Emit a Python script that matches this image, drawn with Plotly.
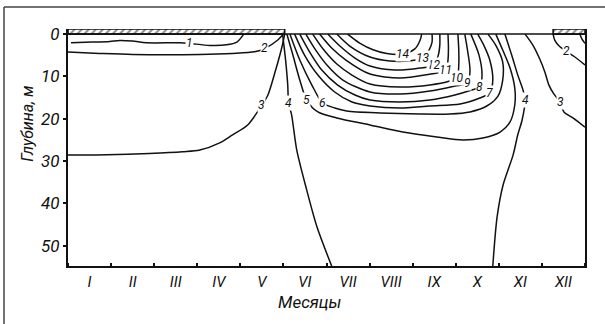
import plotly.graph_objects as go

# Month names (Roman numerals) and depth ticks, m
months = ["I", "II", "III", "IV", "V", "VI", "VII", "VIII", "IX", "X", "XI", "XII"]
depth_ticks = [0, 10, 20, 30, 40, 50]

# Ice cover periods, in months from the start of January
ice_left = (0.0, 5.03)
ice_right = (11.26, 12.0)

# Isotherms: time (months from 1 Jan) and depth (m) along each line
iso1_m = [0.07, 0.57, 0.97, 1.20, 1.50, 1.82, 2.59, 2.82, 3.29, 3.68, 3.92, 4.03, 4.08]
iso1_d = [2.05, 1.90, 1.73, 1.50, 1.65, 2.05, 2.05, 2.20, 2.67, 2.53, 1.90, 0.70, 0.0]

iso2a_m = [0.0, 0.73, 1.50, 3.06, 3.82, 4.33, 4.57, 4.87, 5.00]
iso2a_d = [4.25, 4.56, 4.80, 4.80, 4.56, 4.18, 3.40, 1.40, 0.0]

iso2b_m = [11.26, 11.30, 11.40, 11.56, 11.75, 12.0]
iso2b_d = [0.0, 1.5, 2.8, 4.0, 5.3, 7.3]

iso2c_m = [11.88, 11.93, 12.0]
iso2c_d = [0.0, 1.2, 2.2]

iso3a_m = [0.0, 0.90, 1.89, 2.66, 3.06, 3.52, 3.82, 4.17, 4.50, 4.64, 4.82, 4.96, 5.03]
iso3a_d = [28.6, 28.5, 28.2, 27.8, 27.4, 25.7, 23.8, 21.5, 16.8, 14.4, 8.5, 3.3, 0.0]

iso3b_m = [10.61, 10.79, 10.95, 11.07, 11.16, 11.28, 11.42, 11.51, 11.72, 12.0]
iso3b_d = [0.0, 2.6, 5.9, 9.0, 12.0, 14.2, 16.0, 18.4, 19.8, 22.0]

iso4a_m = [4.98, 5.05, 5.10, 5.12, 5.19, 5.31, 5.54, 5.78, 6.12]
iso4a_d = [0.0, 6.1, 12.0, 16.3, 19.1, 27.4, 36.8, 45.6, 54.8]

iso4b_m = [10.14, 10.30, 10.44, 10.56, 10.61, 10.54, 10.44, 10.33, 10.10, 9.96, 9.86]
iso4b_d = [0.0, 5.0, 9.7, 13.2, 15.6, 20.3, 23.8, 28.6, 35.6, 43.2, 54.8]

iso5_m = [5.08, 5.22, 5.38, 5.54, 5.80, 6.24, 7.01, 7.77, 8.56, 9.17, 9.63, 10.03, 10.26, 10.37, 10.37, 10.26, 10.09, 9.93]
iso5_d = [0.0, 4.96, 10.86, 15.58, 18.41, 19.83, 21.48, 23.14, 24.32, 25.02, 24.55, 23.14, 20.77, 16.76, 12.75, 8.03, 3.78, 0.0]

iso6_m = [5.15, 5.38, 5.66, 5.91, 6.19, 6.47, 7.24, 8.17, 8.86, 9.33, 9.72, 9.98, 10.09, 10.09, 9.94, 9.75]
iso6_d = [0.0, 6.14, 12.04, 16.29, 17.47, 18.18, 18.65, 18.89, 18.89, 18.41, 17.00, 14.64, 10.86, 6.61, 2.83, 0.0]

iso7_m = [5.26, 5.49, 5.80, 6.19, 6.59, 7.01, 7.70, 8.40, 9.10, 9.56, 9.79, 9.86, 9.79, 9.65, 9.51]
iso7_d = [0.0, 4.96, 9.68, 13.69, 16.05, 16.99, 17.47, 16.99, 16.53, 15.11, 13.93, 10.86, 6.14, 2.60, 0.0]

iso8_m = [5.38, 5.61, 5.89, 6.26, 6.66, 7.01, 7.70, 8.40, 8.98, 9.37, 9.56, 9.61, 9.54, 9.35]
iso8_d = [0.0, 4.25, 8.50, 12.04, 14.40, 15.58, 16.05, 15.58, 14.40, 13.22, 12.51, 9.68, 4.96, 0.0]

iso9_m = [5.52, 5.75, 6.03, 6.38, 7.01, 7.70, 8.40, 8.98, 9.28, 9.33, 9.28, 9.21]
iso9_d = [0.0, 3.78, 7.55, 10.86, 13.69, 14.16, 13.46, 12.28, 11.57, 8.50, 4.25, 0.0]

iso10_m = [5.68, 5.94, 6.24, 6.59, 7.01, 7.70, 8.40, 8.86, 9.03, 9.07, 9.07, 9.05]
iso10_d = [0.0, 3.78, 7.08, 9.68, 11.80, 12.51, 12.04, 11.10, 10.39, 7.32, 3.78, 0.0]

iso11_m = [5.84, 6.12, 6.45, 7.01, 7.70, 8.28, 8.77, 8.82, 8.83, 8.82]
iso11_d = [0.0, 3.31, 6.14, 9.44, 10.39, 9.68, 8.50, 6.10, 3.31, 0.0]

iso12_m = [6.03, 6.31, 6.66, 7.01, 7.59, 8.17, 8.49, 8.59, 8.63, 8.63]
iso12_d = [0.0, 2.83, 5.67, 7.55, 8.50, 8.03, 7.32, 5.19, 2.60, 0.0]

iso13_m = [6.24, 6.54, 7.01, 7.47, 7.90, 8.24, 8.38, 8.45, 8.45]
iso13_d = [0.0, 2.83, 5.43, 6.37, 6.37, 5.70, 3.78, 1.89, 0.0]

iso14_m = [6.49, 6.77, 7.08, 7.40, 7.78, 8.05, 8.17, 8.21]
iso14_d = [0.0, 2.12, 3.70, 4.60, 4.70, 3.50, 1.50, 0.0]

# (temperature, months, depths, index of the vertex carrying the label or None)
isotherms = [
    (1, iso1_m, iso1_d, 7),
    (2, iso2a_m, iso2a_d, 6),
    (2, iso2b_m, iso2b_d, 3),
    (2, iso2c_m, iso2c_d, None),
    (3, iso3a_m, iso3a_d, 8),
    (3, iso3b_m, iso3b_d, 6),
    (4, iso4a_m, iso4a_d, 3),
    (4, iso4b_m, iso4b_d, 4),
    (5, iso5_m, iso5_d, 3),
    (6, iso6_m, iso6_d, 3),
    (7, iso7_m, iso7_d, 10),
    (8, iso8_m, iso8_d, 10),
    (9, iso9_m, iso9_d, 8),
    (10, iso10_m, iso10_d, 8),
    (11, iso11_m, iso11_d, 6),
    (12, iso12_m, iso12_d, 6),
    (13, iso13_m, iso13_d, 5),
    (14, iso14_m, iso14_d, 4),
]

FONT = "Roboto, Liberation Sans, sans-serif"
INK = "#111111"

fig = go.Figure()

for temp, xs, ys, lab in isotherms:
    fig.add_trace(go.Scatter(
        x=xs, y=ys, mode="lines",
        line=dict(color=INK, width=1.5, shape="spline", smoothing=0.8),
        hoverinfo="skip", showlegend=False,
    ))
    if lab is not None:
        fig.add_annotation(
            x=xs[lab], y=ys[lab], text=str(temp), showarrow=False,
            font=dict(family=FONT, size=12, color=INK, style="italic"),
            bgcolor="white", borderpad=0,
        )

# Hatched ice cover above the water surface
for a, b in (ice_left, ice_right):
    fig.add_trace(go.Scatter(
        x=[a, b, b, a, a], y=[-1.2, -1.2, 0, 0, -1.2],
        mode="lines", fill="toself",
        fillcolor="white",
        fillpattern=dict(shape="/", fgcolor=INK, bgcolor="white", size=5, solidity=0.4),
        line=dict(color=INK, width=1.6),
        hoverinfo="skip", showlegend=False,
    ))

# Water surface line
fig.add_shape(type="line", xref="x", yref="y", x0=0, x1=12, y0=0, y1=0,
              line=dict(color=INK, width=1.5))

# Outer frame (top and left edges)
fig.add_shape(type="line", xref="paper", yref="paper",
              x0=-0.1238, x1=1.0387, y0=1.0928, y1=1.0928,
              line=dict(color="#444444", width=1.5))
fig.add_shape(type="line", xref="paper", yref="paper",
              x0=-0.1238, x1=-0.1238, y0=1.0928, y1=-0.2447,
              line=dict(color="#444444", width=1.5))

fig.add_annotation(
    xref="paper", yref="paper", x=-0.0774, y=0.60, text="Глубина, м",
    xanchor="center", yanchor="middle",
    textangle=-90, showarrow=False,
    font=dict(family=FONT, size=16, color=INK, style="italic"),
)
fig.add_annotation(
    xref="paper", yref="paper", x=0.468, y=-0.152, text="Месяцы",
    xanchor="center", yanchor="middle",
    showarrow=False,
    font=dict(family=FONT, size=17, color=INK, style="italic"),
)

fig.update_xaxes(
    range=[0, 12],
    tickmode="array",
    tickvals=[i + 0.5 for i in range(12)],
    ticktext=months,
    ticks="",
    ticklabelstandoff=1,
    tickfont=dict(family=FONT, size=15, color=INK, style="italic"),
    minor=dict(tickmode="linear", tick0=0, dtick=1, ticks="inside", ticklen=3,
               tickcolor=INK, tickwidth=1.5, showgrid=False),
    showline=True, linecolor=INK, linewidth=2,
    showgrid=False, zeroline=False,
)
fig.update_yaxes(
    range=[54.8, -1.2],
    tickmode="array",
    tickvals=depth_ticks,
    ticktext=[str(v) for v in depth_ticks],
    ticks="outside", ticklen=3, tickcolor=INK, tickwidth=1.5,
    tickfont=dict(family=FONT, size=17, color=INK, style="italic"),
    showline=True, linecolor=INK, linewidth=2, mirror=True,
    showgrid=False, zeroline=False,
)

fig.update_layout(
    width=605, height=324,
    margin=dict(l=68, r=20, t=29, b=58, pad=0),
    paper_bgcolor="white", plot_bgcolor="white",
    showlegend=False,
)

fig.write_html("out.html")
